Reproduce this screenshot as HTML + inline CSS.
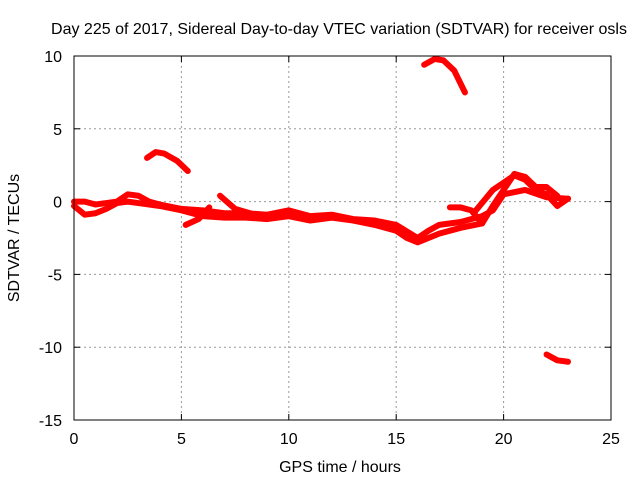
<!DOCTYPE html>
<html><head><meta charset="utf-8"><style>
body{margin:0;background:#fff;}
svg{display:block;font-family:"Liberation Sans",sans-serif;font-size:16px;}
</style></head><body>
<svg id="chart" width="640" height="480">
<text x="339" y="34" text-anchor="middle">Day 225 of 2017, Sidereal Day-to-day VTEC variation (SDTVAR) for receiver osls</text>
<text x="340" y="472" text-anchor="middle">GPS time / hours</text>
<text transform="translate(19,238) rotate(-90)" text-anchor="middle">SDTVAR / TECUs</text>
<g id="grid"></g><g id="ticks"></g><g id="series"></g>
<rect x="74" y="56" width="537" height="364" fill="none" stroke="#000" stroke-width="1"/>
</svg>
<script>
const xTicks=[0,5,10,15,20,25];
const yTicks=[10,5,0,-5,-10,-15];
const trackA=[[0,0],[0.5,0],[1,-0.2],[1.5,-0.1],[2,0],[2.5,0.5],[3,0.4],[3.5,0],[4,-0.2],[5,-0.5],[6,-0.6],[7,-0.8],[8,-0.8],[9,-0.9],[10,-0.6],[11,-1],[12,-0.9],[13,-1.2],[14,-1.3],[15,-1.6],[16,-2.5],[16.5,-2],[17,-1.6],[18,-1.4],[19,-1],[19.5,-0.6],[20,0.5],[21,0.8],[22,0.3],[23,0.2]];
const trackB=[[0,-0.3],[0.5,-0.9],[1,-0.8],[1.5,-0.5],[2,-0.1],[2.5,0],[3,-0.1],[4,-0.3],[5,-0.6],[6,-1],[7,-1.1],[8,-1.1],[9,-1.2],[10,-1.0],[11,-1.3],[12,-1.1],[13,-1.3],[14,-1.6],[15,-2],[15.5,-2.5],[16,-2.8],[17,-2.2],[18,-1.8],[19,-1.5]];
const trackC=[[5.2,-1.6],[5.8,-1.2],[6.3,-0.4]];
const trackD=[[6.8,0.4],[7.5,-0.5],[8.2,-0.8]];
const trackE=[[3.4,3],[3.8,3.4],[4.2,3.3],[4.8,2.8],[5.3,2.1]];
const trackF=[[16.3,9.4],[16.8,9.8],[17.2,9.7],[17.7,9],[18.2,7.5]];
const trackG=[[22,-10.5],[22.5,-10.9],[23,-11.0]];
const trackH=[[18.6,-0.8],[19.5,0.8],[20,1.3],[20.5,1.8],[21,1.5],[21.5,0.8],[22,0.5],[22.5,-0.3],[23,0.2]];
const trackI=[[17.5,-0.4],[18,-0.4],[18.5,-0.6],[19,-1.5],[19.5,-0.3],[20.5,1.9],[21,1.7],[21.5,1],[22,1],[22.5,0.4]];
const tracks=[trackA,trackB,trackC,trackD,trackE,trackF,trackG,trackH,trackI];
const X=v=>74+v*537/25, Y=v=>56+(10-v)*364/25;
const NS="http://www.w3.org/2000/svg";
const grid=document.getElementById('grid'),ticks=document.getElementById('ticks'),ser=document.getElementById('series');
function mk(tag,attrs,parent){const e=document.createElementNS(NS,tag);for(const k in attrs)e.setAttribute(k,attrs[k]);parent.appendChild(e);return e;}
xTicks.forEach(t=>{const x=X(t);
 if(t>0&&t<25){const l=mk('line',{x1:x,x2:x,y1:56,y2:420,stroke:'#999','stroke-dasharray':'2,3'},grid);
 
 }
 const tx=mk('text',{x:x,y:444,'text-anchor':'middle'},ticks);tx.textContent=t;
 
 
 mk('line',{x1:x,x2:x,y1:420,y2:414,stroke:'#000'},ticks);mk('line',{x1:x,x2:x,y1:56,y2:62,stroke:'#000'},ticks);});
yTicks.forEach(t=>{const y=Y(t);
 if(t<10&&t>-15){const l=mk('line',{x1:74,x2:611,y1:y,y2:y,stroke:'#999','stroke-dasharray':'2,3'},grid);
 
 }
 const tx=mk('text',{x:62,y:y+6,'text-anchor':'end'},ticks);tx.textContent=t;
 
 
 mk('line',{x1:74,x2:80,y1:y,y2:y,stroke:'#000'},ticks);mk('line',{x1:611,x2:605,y1:y,y2:y,stroke:'#000'},ticks);});
tracks.forEach(tr=>{const p=mk('polyline',{points:tr.map(d=>X(d[0])+','+Y(d[1])).join(' '),fill:'none',stroke:'#f00','stroke-width':6,'stroke-linejoin':'round','stroke-linecap':'round'},ser);
 
 });
</script>
</body></html>
